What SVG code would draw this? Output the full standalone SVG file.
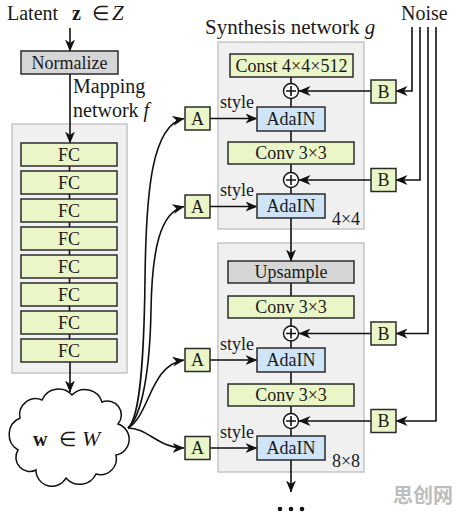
<svg xmlns="http://www.w3.org/2000/svg" width="460" height="514" viewBox="0 0 460 514" font-family="'Liberation Serif', 'Times New Roman', serif">
<style>
text{font-family:"Liberation Serif","Times New Roman",serif;fill:#1a1a1a;}
.lbl{font-family:"Liberation Serif","Times New Roman",serif;font-size:18px;text-anchor:middle;}
.sty{font-family:"Liberation Serif","Times New Roman",serif;font-size:18px;}
.big{font-family:"Liberation Serif","Times New Roman",serif;font-size:20px;}
.cont{fill:#f0f0f0;stroke:#c6c6c6;stroke-width:1.5;}
.g{fill:#eaf6c8;stroke:#2b2b2b;stroke-width:1.5;}
.b{fill:#cfe4f6;stroke:#2b2b2b;stroke-width:1.5;}
.gr{fill:#d6d6d6;stroke:#2b2b2b;stroke-width:1.5;}
.ln{fill:none;stroke:#111;stroke-width:1.6;}
.arr{marker-end:url(#ah);}
.plus{fill:#fff;stroke:#111;stroke-width:1.4;}
</style>
<defs>
<marker id="ah" viewBox="0 0 12 10" refX="11.5" refY="5" markerWidth="12" markerHeight="10" markerUnits="userSpaceOnUse" orient="auto">
<path d="M0,0 L12,5 L0,10 L3.5,5 Z" fill="#111"/>
</marker>
</defs>

<!-- containers -->
<rect id="mapping-container" class="cont" x="12" y="124" width="115" height="249"/>
<rect id="block4-container" class="cont" x="218" y="42" width="146" height="187"/>
<rect id="block8-container" class="cont" x="218" y="243" width="146" height="229"/>

<!-- titles -->
<text class="big" y="20"><tspan x="7">Latent</tspan><tspan x="72" font-weight="bold">z</tspan><tspan x="92">∈</tspan><tspan x="112" font-style="italic" font-size="21">Z</tspan></text>
<text class="big" x="73" y="93">Mapping</text>
<text class="big" x="73" y="117">network <tspan font-style="italic">f</tspan></text>
<text class="big" x="205" y="34" font-size="21" style="font-size:21px">Synthesis network <tspan font-style="italic">g</tspan></text>
<text class="big" x="401" y="20">Noise</text>

<g id="connectors">
<path class="ln arr" d="M70,28 V51"/>
<path class="ln arr" d="M70,74 V143"/>
<path class="ln" d="M69.5,166 V171 M69.5,194 V199 M69.5,222 V227 M69.5,250 V255 M69.5,278 V283 M69.5,306 V311 M69.5,334 V339"/>
<path class="ln arr" d="M70,362 V392"/>
<!-- w to A -->
<path class="ln arr" d="M128,428 C140,418 144,360 145,280 C146,190 152,125 184,118.5"/>
<path class="ln arr" d="M128,428 C142,416 150,370 151,310 C152,250 160,212 184,206.5"/>
<path class="ln arr" d="M128,428 C150,415 150,365 184,360"/>
<path class="ln arr" d="M128,428 C148,428 158,448 184,448"/>
<!-- A to AdaIN -->
<path class="ln arr" d="M210,118.5 H257"/>
<path class="ln arr" d="M210,206.5 H257"/>
<path class="ln arr" d="M210,360 H257"/>
<path class="ln arr" d="M210,448 H257"/>
<!-- main column -->
<path class="ln" d="M291,77 V107 M291,131 V142 M291,164 V194"/>
<path class="ln arr" d="M291,218 V261"/>
<path class="ln" d="M291,283 V296 M291,318 V348 M291,372 V384 M291,406 V436"/>
<path class="ln arr" d="M291,460 V492"/>
<!-- B to plus -->
<path class="ln arr" d="M371,91 H299"/>
<path class="ln arr" d="M371,180 H299"/>
<path class="ln arr" d="M371,333.5 H299"/>
<path class="ln arr" d="M371,421 H299"/>
<!-- noise lines -->
<path class="ln arr" d="M412,27 V91 H396"/>
<path class="ln arr" d="M420,27 V180 H396"/>
<path class="ln arr" d="M428,27 V333.5 H396"/>
<path class="ln arr" d="M436,27 V421 H396"/>
</g>

<g id="normalize"><rect class="gr" x="21" y="51" width="97" height="23"/><text class="lbl" x="69.5" y="68.5">Normalize</text></g>
<g id="fc1"><rect class="g" x="21" y="143" width="96" height="23"/><text class="lbl" x="69" y="160.5">FC</text></g>
<g id="fc2"><rect class="g" x="21" y="171" width="96" height="23"/><text class="lbl" x="69" y="188.5">FC</text></g>
<g id="fc3"><rect class="g" x="21" y="199" width="96" height="23"/><text class="lbl" x="69" y="216.5">FC</text></g>
<g id="fc4"><rect class="g" x="21" y="227" width="96" height="23"/><text class="lbl" x="69" y="244.5">FC</text></g>
<g id="fc5"><rect class="g" x="21" y="255" width="96" height="23"/><text class="lbl" x="69" y="272.5">FC</text></g>
<g id="fc6"><rect class="g" x="21" y="283" width="96" height="23"/><text class="lbl" x="69" y="300.5">FC</text></g>
<g id="fc7"><rect class="g" x="21" y="311" width="96" height="23"/><text class="lbl" x="69" y="328.5">FC</text></g>
<g id="fc8"><rect class="g" x="21" y="339" width="96" height="23"/><text class="lbl" x="69" y="356.5">FC</text></g>

<g id="w-cloud">
<path fill="#fff" stroke="#111" stroke-width="1.5" d="M20,418 A16,16 0 0 1 42,400 A18,18 0 0 1 72,395 A18,18 0 0 1 102,402 A14,14 0 0 1 118,424 A16,16 0 0 1 116,455 A16,16 0 0 1 96,474 A18,18 0 0 1 66,478 A16,16 0 0 1 36,470 A14,14 0 0 1 18,450 A18,18 0 0 1 20,418 Z"/>
<text class="big" y="446"><tspan x="33" font-weight="bold">w</tspan><tspan x="59">∈</tspan><tspan x="82" font-style="italic" font-size="22">W</tspan></text>
</g>

<!-- synthesis block 4x4 -->
<g id="const"><rect class="g" x="230" y="54" width="123" height="23"/><text class="lbl" x="291.5" y="71.5">Const 4×4×512</text></g>
<g id="plus1"><circle class="plus" cx="291" cy="91" r="7.5"/><path class="ln" stroke-width="1.3" d="M286,91 H296 M291,86 V96"/></g>
<g id="adain1"><rect class="b" x="257" y="107" width="68" height="24"/><text class="lbl" x="291" y="125">AdaIN</text></g>
<g id="conv1"><rect class="g" x="228" y="142" width="126" height="22"/><text class="lbl" x="291" y="159">Conv 3×3</text></g>
<g id="plus2"><circle class="plus" cx="291" cy="180" r="7.5"/><path class="ln" stroke-width="1.3" d="M286,180 H296 M291,175 V185"/></g>
<g id="adain2"><rect class="b" x="257" y="194" width="68" height="24"/><text class="lbl" x="291" y="212">AdaIN</text></g>
<text class="lbl" x="346" y="225">4×4</text>

<!-- synthesis block 8x8 -->
<g id="upsample"><rect class="gr" x="228" y="261" width="126" height="22"/><text class="lbl" x="291" y="278">Upsample</text></g>
<g id="conv2"><rect class="g" x="228" y="296" width="126" height="22"/><text class="lbl" x="291" y="313">Conv 3×3</text></g>
<g id="plus3"><circle class="plus" cx="291" cy="333.5" r="7.5"/><path class="ln" stroke-width="1.3" d="M286,333.5 H296 M291,328.5 V338.5"/></g>
<g id="adain3"><rect class="b" x="257" y="348" width="68" height="24"/><text class="lbl" x="291" y="366">AdaIN</text></g>
<g id="conv3"><rect class="g" x="228" y="384" width="126" height="22"/><text class="lbl" x="291" y="401">Conv 3×3</text></g>
<g id="plus4"><circle class="plus" cx="291" cy="421" r="7.5"/><path class="ln" stroke-width="1.3" d="M286,421 H296 M291,416 V426"/></g>
<g id="adain4"><rect class="b" x="257" y="436" width="68" height="24"/><text class="lbl" x="291" y="454">AdaIN</text></g>
<text class="lbl" x="346" y="467">8×8</text>

<!-- A boxes -->
<g id="a1"><rect class="g" x="185" y="107" width="25" height="23"/><text class="lbl" x="197.5" y="124.5">A</text></g>
<g id="a2"><rect class="g" x="185" y="195" width="25" height="23"/><text class="lbl" x="197.5" y="212.5">A</text></g>
<g id="a3"><rect class="g" x="185" y="348.5" width="25" height="23"/><text class="lbl" x="197.5" y="366">A</text></g>
<g id="a4"><rect class="g" x="185" y="436.5" width="25" height="23"/><text class="lbl" x="197.5" y="454">A</text></g>
<text class="sty" x="220" y="108">style</text>
<text class="sty" x="220" y="196">style</text>
<text class="sty" x="220" y="350">style</text>
<text class="sty" x="220" y="438">style</text>

<!-- B boxes -->
<g id="b1"><rect class="g" x="371" y="80" width="25" height="23"/><text class="lbl" x="383.5" y="97.5">B</text></g>
<g id="b2"><rect class="g" x="371" y="168.5" width="25" height="23"/><text class="lbl" x="383.5" y="186">B</text></g>
<g id="b3"><rect class="g" x="371" y="322" width="25" height="23"/><text class="lbl" x="383.5" y="339.5">B</text></g>
<g id="b4"><rect class="g" x="371" y="409.5" width="25" height="23"/><text class="lbl" x="383.5" y="427">B</text></g>

<g id="dots" fill="#111"><circle cx="280" cy="509" r="2.3"/><circle cx="291" cy="509" r="2.3"/><circle cx="302" cy="509" r="2.3"/></g>
<text x="393" y="503" font-size="20" font-weight="bold" style="font-family:'Noto Sans CJK SC',sans-serif;fill:#bdbdbd">思创网</text>
</svg>
